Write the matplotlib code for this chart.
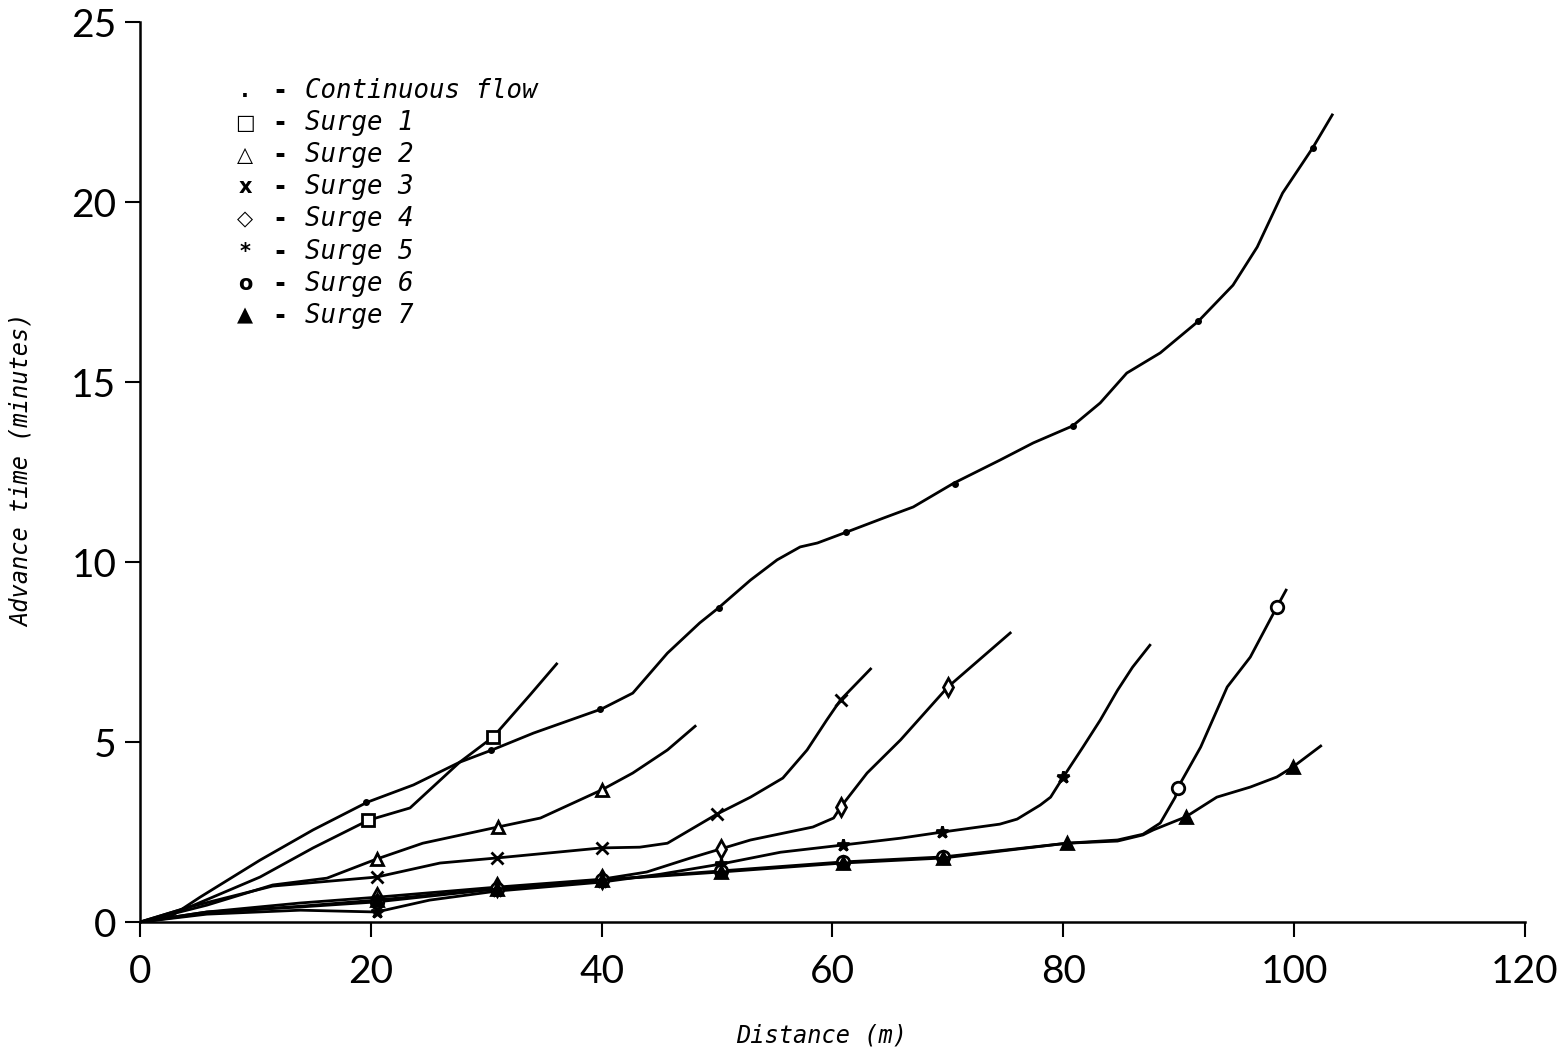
import numpy as np
import matplotlib.pyplot as plt

cont_x = [0, 2.6, 5.2, 10.4, 15.0, 19.7, 23.7, 27.7, 30.5, 34.1, 40.0, 42.7, 45.7, 48.5, 50.1,
          52.9, 55.2, 57.2, 58.7, 61.2, 64.4, 67.0, 70.5, 74.5, 77.4, 80.8, 83.2, 85.5, 88.4,
          91.7, 94.7, 96.8, 99.0, 101.6, 103.3]
cont_y = [0, 0.14, 0.69, 1.72, 2.56, 3.33, 3.81, 4.44, 4.78, 5.25, 5.92, 6.36, 7.47, 8.31, 8.72,
          9.50, 10.06, 10.42, 10.53, 10.83, 11.22, 11.53, 12.19, 12.83, 13.31, 13.78, 14.42, 15.25,
          15.81, 16.69, 17.69, 18.75, 20.25, 21.5, 22.42]
cont_mx = [19.6, 30.4, 39.9, 50.2, 61.2, 70.6, 80.8, 91.7, 101.6]
cont_my = [3.33, 4.78, 5.92, 8.72, 10.83, 12.17, 13.78, 16.69, 21.5]

s1_x = [0, 4.3, 10.4, 15.0, 19.8, 23.4, 27.7, 30.6, 33.8, 36.1]
s1_y = [0, 0.42, 1.25, 2.06, 2.83, 3.17, 4.44, 5.14, 6.31, 7.17]
s1_mx = [19.8, 30.6]
s1_my = [2.83, 5.14]

s2_x = [0, 5.8, 11.5, 16.2, 20.5, 24.5, 31.0, 34.7, 40.0, 42.7, 45.7, 48.1]
s2_y = [0, 0.47, 1.03, 1.22, 1.75, 2.19, 2.64, 2.89, 3.67, 4.14, 4.78, 5.44]
s2_mx = [20.5, 31.0, 40.0]
s2_my = [1.75, 2.64, 3.67]

s3_x = [0, 4.3, 11.5, 20.5, 26.0, 30.9, 40.0, 43.3, 45.7, 50.0, 52.9, 55.7, 57.8, 59.5, 60.7, 63.3]
s3_y = [0, 0.42, 1.0, 1.25, 1.64, 1.78, 2.06, 2.08, 2.19, 3.0, 3.47, 4.0, 4.78, 5.61, 6.17, 7.03]
s3_mx = [20.5, 30.9, 40.0, 50.0, 60.7]
s3_my = [1.25, 1.78, 2.06, 3.0, 6.17]

s4_x = [0, 5.8, 13.9, 20.5, 30.9, 40.0, 43.9, 47.7, 50.3, 52.9, 58.3, 60.1, 60.7, 63.0, 65.9,
        70.0, 75.4]
s4_y = [0, 0.28, 0.53, 0.69, 0.97, 1.19, 1.39, 1.78, 2.03, 2.28, 2.64, 2.89, 3.19, 4.14, 5.06,
        6.53, 8.03]
s4_mx = [20.5, 30.9, 40.0, 50.3, 60.7, 70.0]
s4_my = [0.69, 0.97, 1.19, 2.03, 3.19, 6.53]

s5_x = [0, 5.8, 13.9, 20.5, 25.1, 30.9, 40.0, 45.1, 50.3, 55.5, 60.9, 65.9, 69.5, 74.5, 76.0,
        78.0, 78.9, 80.0, 81.7, 83.2, 84.7, 86.0, 87.5]
s5_y = [0, 0.22, 0.33, 0.28, 0.61, 0.86, 1.11, 1.33, 1.61, 1.94, 2.14, 2.33, 2.5, 2.72, 2.86,
        3.25, 3.47, 4.03, 4.86, 5.61, 6.44, 7.08, 7.69]
s5_mx = [20.5, 30.9, 40.0, 50.3, 60.9, 69.5, 80.0]
s5_my = [0.28, 0.86, 1.11, 1.61, 2.14, 2.5, 4.03]

s6_x = [0, 5.8, 13.9, 20.5, 30.9, 40.0, 50.3, 60.9, 69.6, 80.3, 84.7, 86.9, 88.4, 89.7, 89.9,
        91.9, 94.2, 96.2, 98.5, 99.3]
s6_y = [0, 0.28, 0.42, 0.56, 0.92, 1.17, 1.42, 1.67, 1.81, 2.19, 2.28, 2.44, 2.75, 3.47, 3.72,
        4.86, 6.53, 7.36, 8.75, 9.22]
s6_mx = [20.5, 30.9, 40.0, 50.3, 60.9, 69.6, 89.9, 98.5]
s6_my = [0.56, 0.92, 1.17, 1.42, 1.67, 1.81, 3.72, 8.75]

s7_x = [0, 5.8, 13.9, 20.5, 30.9, 40.0, 50.3, 60.9, 69.6, 80.3, 84.7, 86.9, 87.8, 90.6, 93.3,
        96.2, 98.5, 99.9, 102.3]
s7_y = [0, 0.25, 0.44, 0.61, 0.92, 1.17, 1.39, 1.64, 1.78, 2.19, 2.25, 2.42, 2.56, 2.92, 3.47,
        3.75, 4.03, 4.31, 4.89]
s7_mx = [20.5, 30.9, 40.0, 50.3, 60.9, 69.6, 80.3, 90.6, 99.9]
s7_my = [0.61, 0.92, 1.17, 1.39, 1.64, 1.78, 2.19, 2.92, 4.31]

legend_syms = ['.', '\u25a1', '\u25b3', 'x', '\u25c7', '*', 'o', '\u25b2']
legend_labels = ['Continuous flow', 'Surge 1', 'Surge 2', 'Surge 3', 'Surge 4', 'Surge 5',
                 'Surge 6', 'Surge 7']

fig = plt.figure(figsize=(15.62, 10.49), dpi=100)
ax = fig.add_axes([0.0896, 0.121, 0.8867, 0.858])

lw = 2.0
ax.plot(cont_x, cont_y, 'k-', lw=lw, solid_joinstyle='round')
ax.plot(cont_mx, cont_my, 'k.', ms=8)

series = [(s1_x, s1_y, s1_mx, s1_my, 's', 'none'),
          (s2_x, s2_y, s2_mx, s2_my, '^', 'none'),
          (s3_x, s3_y, s3_mx, s3_my, 'x', 'k'),
          (s4_x, s4_y, s4_mx, s4_my, 'd', 'none'),
          (s5_x, s5_y, s5_mx, s5_my, '*', 'k'),
          (s6_x, s6_y, s6_mx, s6_my, 'o', 'none'),
          (s7_x, s7_y, s7_mx, s7_my, '^', 'k')]
for x, y, mx, my, m, fc in series:
    ax.plot(x, y, 'k-', lw=lw, solid_joinstyle='round')
    ax.plot(mx, my, ls='none', marker=m, ms=9, mfc=fc if fc == 'k' else 'white',
            mec='k', mew=2)

ax.set_xlim(0, 120)
ax.set_ylim(0, 25)
ax.set_xticks(np.arange(0, 121, 20))
ax.set_yticks(np.arange(0, 26, 5))
for s in ['top', 'right']:
    ax.spines[s].set_visible(False)
for s in ['left', 'bottom']:
    ax.spines[s].set_linewidth(1.8)
ax.tick_params(direction='out', length=11, width=1.5, labelsize=28, labelcolor='black')
ax.tick_params(axis='x', pad=12)
ax.tick_params(axis='y', pad=6)
for lab in ax.get_xticklabels() + ax.get_yticklabels():
    lab.set_family('Lato')
    lab.set_fontweight('normal')

ax.set_xlabel('Distance (m)', family='DejaVu Sans Mono', style='italic', fontsize=17)
ax.set_ylabel('Advance time (minutes)', family='DejaVu Sans Mono', style='italic',
              fontsize=17)
ax.xaxis.set_label_coords(0.492, -0.113)
ax.yaxis.set_label_coords(-0.077, 0.502)

# hand drawn style legend
for i, (sym, lab) in enumerate(zip(legend_syms, legend_labels)):
    yy = 0.923 - i * 0.0356
    ax.text(0.0758, yy, sym, transform=ax.transAxes, ha='center', va='center',
            family='DejaVu Sans', fontsize=15, fontweight='bold')
    ax.text(0.101, yy, '-', transform=ax.transAxes, ha='center', va='center',
            family='DejaVu Sans Mono', fontsize=18, fontweight='bold')
    ax.text(0.119, yy, lab, transform=ax.transAxes, ha='left', va='center',
            family='DejaVu Sans Mono', style='italic', fontsize=18.5)

fig.savefig('out.png', dpi=100)
